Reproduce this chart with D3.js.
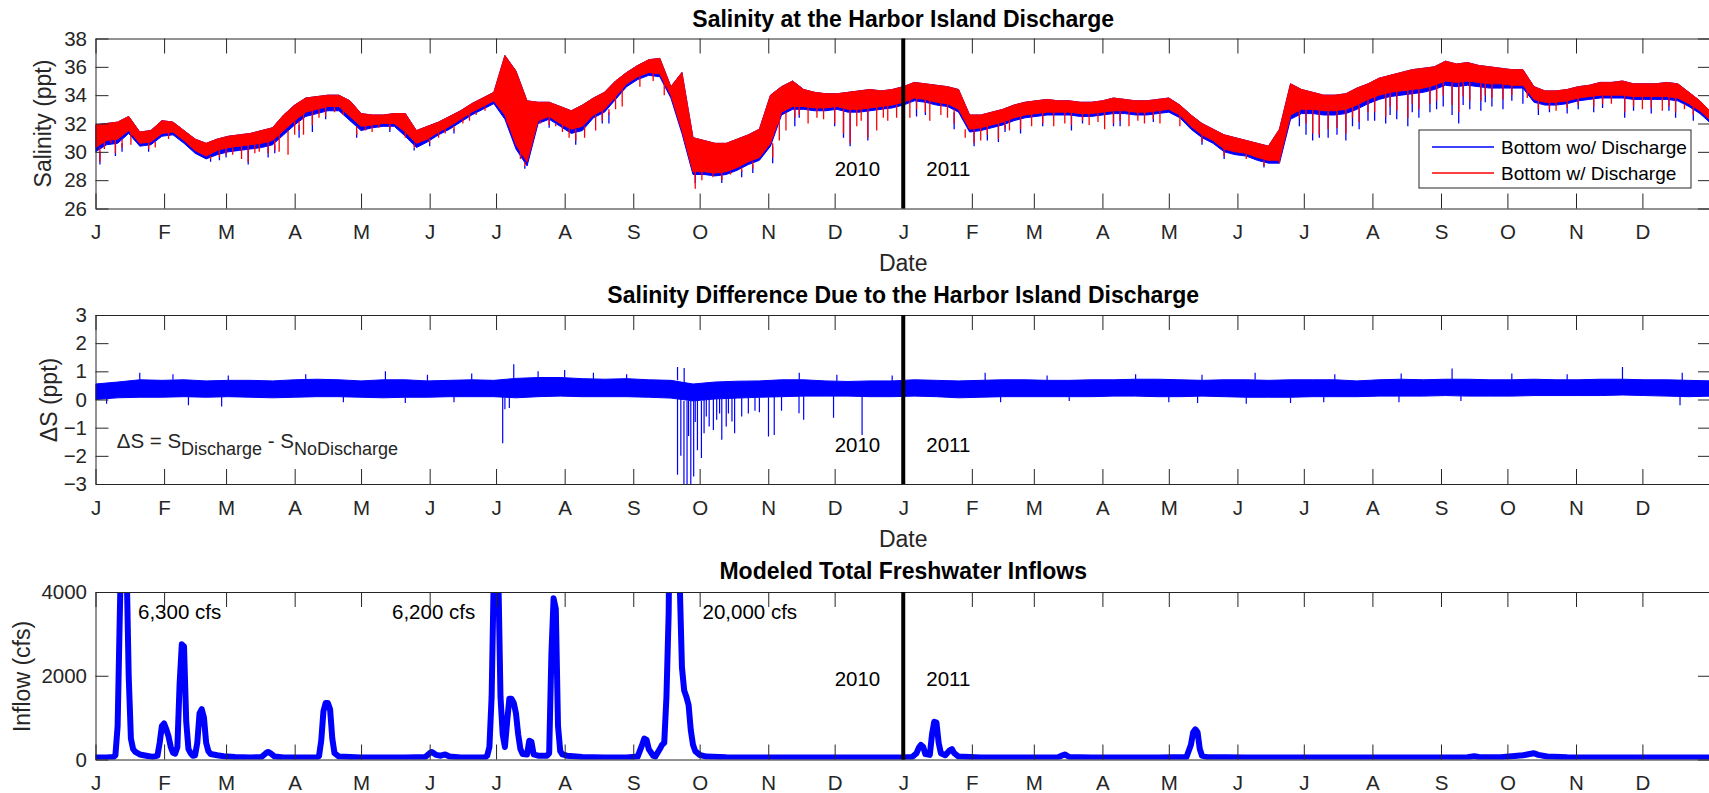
<!DOCTYPE html>
<html><head><meta charset="utf-8">
<script src="https://cdn.jsdelivr.net/npm/d3@7"></script>
<style>
body{margin:0;background:#fff}
svg{display:block}
text{font-family:"Liberation Sans",Arial,Helvetica,sans-serif}
</style>
</head><body>
<svg id="c" width="1709" height="793"></svg>
<script>
// ---------------- DATA ----------------
const monthLetters = ["J","F","M","A","M","J","J","A","S","O","N","D"];
const salTicks = [26,28,30,32,34,36,38];
const diffTicks = [-3,-2,-1,0,1,2,3];
const inflowTicks = [0,2000,4000];
const yearLabels = ["2010","2011"];
const legendLabels = ["Bottom wo/ Discharge","Bottom w/ Discharge"];
const titles = ["Salinity at the Harbor Island Discharge","Salinity Difference Due to the Harbor Island Discharge","Modeled Total Freshwater Inflows"];
const peakLabels = ["6,300 cfs","6,200 cfs","20,000 cfs"];

// salinity envelopes, one sample every 5 days from 1 Jan 2010
const salStepDays = 5;
const redHi = [31.9,32.0,32.1,32.5,31.4,31.5,32.2,32.1,31.5,30.9,30.6,30.9,31.1,31.2,31.3,31.5,31.7,32.6,33.3,33.8,
33.9,34.0,34.0,33.6,32.7,32.6,32.6,32.7,32.7,31.5,31.8,32.1,32.5,32.9,33.4,33.8,34.2,36.8,35.7,33.6,
33.5,33.5,33.2,32.9,33.3,33.8,34.2,35.0,35.6,36.1,36.5,36.6,34.6,35.6,31.0,30.8,30.6,30.6,30.9,31.2,
31.6,34.0,34.6,35.0,34.4,34.2,34.1,34.1,34.2,34.3,34.4,34.3,34.4,34.6,34.9,34.8,34.7,34.6,34.4,32.6,
32.6,32.8,33.0,33.3,33.5,33.6,33.7,33.6,33.6,33.5,33.5,33.6,33.8,33.7,33.6,33.6,33.7,33.8,33.3,32.6,
32.0,31.6,31.2,31.0,30.8,30.6,30.4,31.6,34.8,34.4,34.2,34.0,34.0,34.1,34.5,34.8,35.2,35.4,35.6,35.8,
35.9,36.0,36.4,36.2,36.3,36.1,36.0,35.9,35.8,35.8,34.6,34.3,34.3,34.4,34.6,34.7,34.9,34.9,35.0,34.8,
34.8,34.8,34.9,34.8,34.2,33.6,32.8];
const redLo = [30.3,30.8,30.9,31.5,30.6,30.7,31.3,31.4,30.8,30.1,29.7,30.1,30.3,30.4,30.5,30.6,30.8,31.5,32.2,32.8,
33.0,33.2,33.2,32.5,31.8,31.9,32.0,32.0,31.4,30.6,30.9,31.4,31.8,32.3,32.8,33.2,33.6,32.6,30.5,29.3,
32.2,32.5,32.0,31.6,31.8,32.6,33.0,33.9,34.8,35.3,35.6,35.5,34.0,31.5,28.6,28.6,28.5,28.6,28.9,29.3,
29.6,30.6,32.8,33.2,33.2,33.1,33.1,33.2,33.0,33.0,33.1,33.2,33.3,33.5,33.8,33.7,33.5,33.4,33.0,31.6,
31.7,31.9,32.1,32.4,32.6,32.7,32.8,32.8,32.8,32.7,32.7,32.8,32.9,32.9,32.8,32.8,32.9,33.0,32.6,31.8,
31.2,30.8,30.2,30.0,29.9,29.6,29.4,29.4,32.6,33.0,33.0,32.9,32.9,33.0,33.3,33.7,34.0,34.2,34.3,34.4,
34.5,34.7,35.0,34.9,35.0,34.9,34.8,34.8,34.7,34.7,33.7,33.5,33.5,33.6,33.8,33.9,34.0,34.0,34.0,33.9,
33.9,33.9,33.9,33.8,33.4,32.9,32.2];
const blueLo = [30.0,30.5,30.6,31.3,30.4,30.5,31.1,31.2,30.6,29.9,29.5,29.8,30.0,30.1,30.2,30.3,30.5,31.2,31.9,32.5,
32.7,32.9,32.9,32.2,31.5,31.7,31.8,31.8,31.1,30.3,30.7,31.2,31.6,32.1,32.6,33.0,33.4,32.3,30.2,29.0,
32.0,32.3,31.8,31.3,31.5,32.4,32.8,33.7,34.6,35.1,35.4,35.3,33.8,31.3,28.4,28.4,28.3,28.4,28.7,29.1,
29.4,30.4,32.6,33.0,33.0,32.9,32.9,33.0,32.8,32.8,32.9,33.0,33.1,33.3,33.6,33.5,33.3,33.2,32.8,31.4,
31.5,31.7,31.9,32.2,32.4,32.5,32.6,32.6,32.6,32.5,32.5,32.6,32.7,32.7,32.6,32.6,32.7,32.8,32.4,31.6,
31.0,30.6,30.0,29.8,29.7,29.4,29.2,29.2,32.3,32.7,32.7,32.6,32.6,32.7,33.0,33.4,33.7,33.9,34.0,34.1,
34.2,34.4,34.7,34.6,34.7,34.6,34.5,34.5,34.5,34.5,33.5,33.3,33.3,33.4,33.6,33.7,33.8,33.8,33.8,33.7,
33.7,33.7,33.7,33.6,33.2,32.7,32.0];
// [day since 1 Jan 2010, minimum salinity of the tidal dip]
const redSpikes = [[2,29.3],[4,30.2],[7,30.6],[9,29.9],[12,30.3],[16,30.5],[19,31.0],[24,30.2],[27,30.3],[33,30.9],[38,30.8],[44,30.6],[49,30.4],[52,29.5],[56,29.6],[59,29.8],[62,29.8],[66,29.5],[69,29.3],[72,29.9],[74,30.0],[78,29.9],[81,30.1],[83,30.0],[87,29.8],[90,31.2],[92,31.5],[94,31.2],[98,31.9],[101,32.4],[104,32.5],[108,32.8],[112,32.6],[118,31.2],[122,31.5],[125,31.4],[128,31.7],[133,31.6],[137,31.8],[140,31.0],[144,30.3],[147,30.6],[151,30.6],[155,31.0],[158,31.3],[162,31.5],[166,32.0],[169,32.2],[172,32.6],[176,32.9],[186,32.0],[189,31.5],[192,29.5],[194,29.0],[197,31.0],[201,32.0],[205,31.9],[208,31.8],[211,31.4],[214,31.0],[217,30.8],[221,31.0],[226,31.5],[229,32.2],[232,32.6],[235,33.0],[238,33.2],[246,34.6],[252,35.0],[257,34.0],[264,33.0],[268,30.0],[271,27.4],[274,28.0],[279,28.2],[283,28.0],[287,28.4],[292,28.6],[297,28.8],[299,29.5],[302,29.8],[304,31.0],[306,29.6],[309,30.8],[312,31.5],[316,32.4],[318,32.6],[322,32.0],[326,32.4],[329,32.3],[334,32.0],[338,31.3],[341,30.6],[344,31.8],[346,32.2],[349,31.0],[353,31.5],[356,32.4],[358,32.2],[362,32.4],
[368,32.4],[371,33.0],[375,32.8],[377,32.2],[382,32.6],[385,32.4],[388,32.0],[393,31.0],[397,30.6],[400,30.8],[403,31.2],[408,30.9],[411,31.6],[413,31.5],[418,31.6],[423,31.8],[428,32.0],[433,31.8],[438,32.0],[441,31.9],[446,32.2],[449,31.9],[453,32.1],[456,31.6],[460,32.0],[463,32.2],[467,31.8],[471,32.2],[474,32.0],[478,32.3],[481,32.0],[490,31.8],[500,30.7],[510,29.7],[520,29.5],[528,29.0],[535,29.2],[544,32.4],[547,32.0],[550,31.3],[553,31.2],[557,31.6],[561,31.7],[565,31.3],[568,32.4],[571,32.1],[575,32.8],[578,32.8],[583,32.5],[585,33.2],[588,32.9],[593,32.4],[595,33.4],[598,33.0],[603,33.4],[606,33.6],[609,34.0],[613,33.3],[616,32.8],[618,33.9],[621,33.6],[626,33.6],[628,34.0],[631,33.8],[636,33.7],[640,34.0],[647,33.8],[652,33.0],[657,33.0],[660,32.9],[665,33.1],[670,33.3],[677,33.2],[681,33.4],[685,33.4],[691,32.8],[695,33.2],[699,33.0],[703,33.1],[708,32.9],[711,33.2],[714,32.8],[718,33.0],[722,32.6]];
const blueSpikes = [[2,29.1],[9,29.7],[12,30.0],[24,30.0],[52,29.3],[56,29.4],[59,29.6],[69,29.1],[78,29.6],[81,29.9],[92,31.0],[98,31.4],[104,32.3],[118,31.0],[133,31.4],[144,30.1],[151,30.4],[162,31.3],[194,28.8],[205,31.7],[217,30.5],[229,32.0],[232,32.0],[271,27.8],[283,27.8],[292,28.2],[297,28.5],[302,29.4],[306,29.2],[316,31.8],[318,32.4],[334,31.8],[338,31.0],[341,30.4],[349,30.8],[371,32.5],[375,32.6],[388,31.6],[397,30.4],[403,30.8],[408,30.7],[411,31.4],[418,31.3],[428,31.8],[441,31.5],[446,32.0],[460,31.8],[463,31.8],[478,32.1],[500,30.5],[510,29.5],[528,28.9],[544,31.8],[547,31.2],[550,30.8],[553,31.0],[557,31.0],[561,31.2],[565,30.8],[568,31.8],[571,31.6],[575,32.2],[578,32.2],[583,32.0],[585,32.6],[588,32.3],[593,31.8],[595,32.8],[598,32.4],[603,32.8],[606,33.0],[609,33.2],[613,32.6],[616,32.0],[618,33.3],[621,33.0],[626,32.9],[628,33.5],[631,33.2],[636,33.0],[640,33.6],[645,33.4],[652,32.6],[657,32.8],[665,32.7],[670,33.0],[677,32.8],[681,33.1],[691,32.4],[695,32.9],[703,32.7],[711,32.9],[714,32.4],[722,32.2]];

// salinity difference envelope, one sample every 10 days
const diffStepDays = 10;
const diffHi = [0.55,0.62,0.70,0.68,0.70,0.66,0.68,0.68,0.66,0.70,0.72,0.70,0.66,0.70,0.70,0.66,0.68,0.70,0.68,0.75,
0.78,0.78,0.74,0.72,0.74,0.70,0.68,0.55,0.62,0.65,0.66,0.70,0.70,0.66,0.64,0.66,0.66,0.70,0.68,0.66,
0.68,0.70,0.70,0.68,0.68,0.70,0.70,0.72,0.72,0.70,0.68,0.70,0.70,0.68,0.70,0.70,0.70,0.66,0.70,0.72,
0.70,0.72,0.72,0.70,0.70,0.72,0.70,0.70,0.72,0.72,0.70,0.70,0.68,0.66];
const diffLo = [0.00,0.06,0.08,0.08,0.10,0.08,0.10,0.08,0.06,0.08,0.10,0.10,0.08,0.06,0.08,0.08,0.10,0.10,0.10,0.06,
0.10,0.12,0.10,0.10,0.10,0.08,0.05,-0.05,0.02,0.05,0.08,0.10,0.12,0.12,0.12,0.10,0.10,0.12,0.10,0.06,
0.08,0.10,0.10,0.10,0.10,0.10,0.12,0.12,0.10,0.10,0.12,0.10,0.08,0.08,0.08,0.10,0.10,0.10,0.12,0.12,
0.12,0.14,0.12,0.12,0.12,0.14,0.14,0.14,0.14,0.16,0.14,0.12,0.10,0.12];
const diffSpikes = [[20,0.95],[35,0.9],[60,0.85],[95,0.9],[131,1.0],[150,0.88],[170,0.92],[189,1.25],[200,1.0],[212,1.05],[225,0.95],[240,0.9],[263,1.15],[266,1.12],[318,0.95],[335,0.88],[360,0.85],[402,0.95],[430,0.85],[470,0.9],[500,0.88],[524,0.95],[560,0.9],[590,0.92],[613,1.1],[640,0.92],[665,0.9],[690,1.15],[717,0.95],
[5,-0.15],[42,-0.2],[57,-0.25],[112,-0.1],[140,-0.12],[162,-0.1],[184,-1.55],[185,-0.35],[187,-0.3],
[263,-2.67],[264.5,-2.0],[265.9,-3.2],[267.3,-3.2],[268,-1.3],[269,-3.2],[270.3,-2.73],[271,-0.8],[272,-1.8],[273.8,-2.08],[275,-1.2],[276,-0.6],[277.3,-0.96],[279.2,-1.08],[280.7,-0.72],[282,-0.5],[283,-1.43],[285,-0.96],[286,-0.5],[287.6,-0.78],[288.8,-1.2],[292,-0.6],[295,-0.5],[298,-0.4],[300,-0.45],[304.1,-1.31],[306.7,-1.26],[310,-0.4],[317.9,-0.49],[320,-0.72],[333.5,-0.65],[346.4,-1.26],
[409,-0.1],[440,-0.05],[485,-0.1],[498,-0.12],[520,-0.15],[540,-0.12],[555,-0.1],[589,-0.1],[617,-0.05],[716,-0.2]];

// modeled inflow (cfs) at days since 1 Jan 2010
const inflowDays = [0,5,8,9,10,11,12,13,14,15,16,17,18,20,23,26,28,29,30,31,32,33,34,35,36,37,38,39,40,41,42,43,44,45,46,47,48,49,50,51,52,55,58,63,70,75,77,78,79,81,85,100,101,102,103,104,105,106,107,108,110,120,140,149,151,152,154,156,158,160,165,176,177,178,179,180,181,182,183,184,185,186,187,188,189,190,191,192,193,195,196,197,198,200,204,205,206,207,208,209,210,211,213,220,230,240,245,247,248,249,250,252,253,255,256,257,258,259,260,261,262,263,264,265,266,267,268,269,270,271,273,276,285,300,320,340,365,369,371,372,373,374,375,377,378,379,380,381,382,384,386,387,388,390,400,420,435,437,438,440,450,480,493,495,496,497,498,499,500,502,520,560,600,620,623,625,635,640,645,648,650,652,656,665,690,730];
const inflowValues = [50,50,60,100,800,3500,6000,6300,4800,2000,500,250,180,120,90,60,90,400,800,860,720,550,300,160,140,300,1800,2750,2700,900,250,150,90,100,400,1100,1200,1000,400,200,130,100,80,60,50,60,150,180,150,70,50,50,80,450,1150,1350,1350,1200,500,150,70,50,50,60,150,180,110,90,120,70,50,50,90,300,1500,4500,6200,4500,1500,600,300,900,1450,1450,1350,1100,600,250,130,120,450,420,120,90,90,150,2500,3850,3600,800,200,120,90,60,50,50,70,350,500,470,250,90,70,250,350,400,1500,3500,9000,18000,20000,12000,4200,2200,1650,1500,1300,700,350,200,110,70,55,50,50,45,45,60,150,280,350,300,130,110,600,900,880,400,150,100,220,250,150,70,50,50,55,100,120,60,50,50,60,350,650,720,650,250,90,60,50,50,50,55,80,60,55,80,100,130,150,110,70,55,50,50];

// ---------------- LAYOUT ----------------
const ink = "#262626";
const xLeft = 95.5, xRight = 1711;
const day0 = Date.UTC(2010,0,1);
const dt = d => new Date(day0 + d*86400000);
const x = d3.scaleUtc().domain([new Date(day0), new Date(Date.UTC(2012,0,1))]).range([xLeft, xRight]);
const monthTicks = d3.utcMonth.range(new Date(day0), new Date(Date.UTC(2012,0,1)));
const yearBreak = new Date(Date.UTC(2011,0,1));

const svg = d3.select("#c");
const defs = svg.append("defs");

function panel(idx, top, bottom, domain, ticks) {
  const y = d3.scaleLinear().domain(domain).range([bottom, top]);
  const g = svg.append("g");
  const cid = "clip" + idx;
  defs.append("clipPath").attr("id", cid).append("rect")
    .attr("x", xLeft).attr("y", top).attr("width", xRight - xLeft).attr("height", bottom - top);
  const plot = g.append("g").attr("clip-path", `url(#${cid})`);
  return {y, g, plot, top, bottom, ticks};
}

function axes(p, showDate) {
  const {g, y, top, bottom, ticks} = p;
  const style = sel => {
    sel.attr("font-family", null).attr("font-size", null);
    sel.select(".domain").attr("stroke", ink).attr("stroke-width", 1);
    sel.selectAll(".tick line").attr("stroke", ink).attr("stroke-width", 1);
    sel.selectAll(".tick text").attr("fill", ink).style("font-size", "20.5px");
  };
  g.append("g").attr("transform", `translate(0,${bottom})`)
    .call(d3.axisBottom(x).tickValues(monthTicks).tickFormat(d => monthLetters[d.getUTCMonth()])
      .tickSizeInner(-15).tickSizeOuter(0).tickPadding(16)).call(style);
  g.append("g").attr("transform", `translate(0,${top})`)
    .call(d3.axisTop(x).tickValues(monthTicks).tickFormat("").tickSizeInner(-15).tickSizeOuter(0)).call(style);
  g.append("g").attr("transform", `translate(${xLeft},0)`)
    .call(d3.axisLeft(y).tickValues(ticks).tickFormat(d3.format("d")).tickSizeInner(-13).tickSizeOuter(0).tickPadding(8.5)).call(style);
  g.append("g").attr("transform", `translate(${xRight},0)`)
    .call(d3.axisRight(y).tickValues(ticks).tickFormat("").tickSizeInner(-13).tickSizeOuter(0)).call(style);
  g.append("line").attr("x1", x(yearBreak)).attr("x2", x(yearBreak)).attr("y1", top).attr("y2", bottom)
    .attr("stroke", "#000").attr("stroke-width", 4);
  if (showDate) {
    g.append("text").attr("x", (xLeft + xRight) / 2).attr("y", bottom + 62.5).attr("text-anchor", "middle")
      .attr("fill", ink).style("font-size", "23px").text("Date");
  }
}

function title(txt, yb) {
  svg.append("text").attr("x", (xLeft + xRight) / 2).attr("y", yb).attr("text-anchor", "middle")
    .attr("fill", "#000").style("font-size", "23px").style("font-weight", "bold").text(txt);
}
function ylabel(txt, xb, yc) {
  svg.append("text").attr("transform", `translate(${xb},${yc}) rotate(-90)`).attr("text-anchor", "middle")
    .attr("fill", ink).style("font-size", "23px").text(txt);
}
function years(p, yc) {
  p.g.append("text").attr("x", x(yearBreak) - 23).attr("y", yc + 7.4).attr("text-anchor", "end")
    .attr("fill", "#000").style("font-size", "20.5px").text(yearLabels[0]);
  p.g.append("text").attr("x", x(yearBreak) + 23).attr("y", yc + 7.4).attr("text-anchor", "start")
    .attr("fill", "#000").style("font-size", "20.5px").text(yearLabels[1]);
}
function spikeSegs(spikes, lo, hi, step) {
  const out = [];
  spikes.forEach(([d, v]) => {
    const k = Math.max(0, Math.min(lo.length - 1, Math.round(d / step)));
    if (v < lo[k]) out.push([d, v, lo[k]]);
    else if (v > hi[k]) out.push([d, hi[k], v]);
  });
  return out;
}
function drawSpikes(p, segs, color, w) {
  p.plot.append("g").selectAll("line").data(segs).join("line")
    .attr("x1", s => x(dt(s[0]))).attr("x2", s => x(dt(s[0])))
    .attr("y1", s => p.y(s[1])).attr("y2", s => p.y(s[2]))
    .attr("stroke", color).attr("stroke-width", w);
}

// ---------------- PANEL 1 ----------------
const p1 = panel(1, 38.5, 208.5, [26, 38], salTicks);
const salRows = redHi.map((v, i) => ({day: i * salStepDays, hi: v, lo: redLo[i], bl: blueLo[i]}));
p1.plot.append("path").datum(salRows)
  .attr("d", d3.area().x(d => x(dt(d.day))).y0(d => p1.y(d.bl)).y1(d => p1.y(d.hi)))
  .attr("fill", "#0000ff").attr("stroke", "#0000ff").attr("stroke-width", 1);
drawSpikes(p1, spikeSegs(blueSpikes, blueLo, redHi, salStepDays), "#0000ff", 1.3);
p1.plot.append("path").datum(salRows)
  .attr("d", d3.area().x(d => x(dt(d.day))).y0(d => p1.y(d.lo)).y1(d => p1.y(d.hi)))
  .attr("fill", "#ff0000").attr("stroke", "#ff0000").attr("stroke-width", 1);
drawSpikes(p1, spikeSegs(redSpikes, redLo, redHi, salStepDays), "#ff0000", 1.3);
axes(p1, true);
years(p1, 169);
title(titles[0], 26.7);
ylabel("Salinity (ppt)", 50.5, 123.5);
const lg = svg.append("g");
lg.append("rect").attr("x", 1419).attr("y", 130).attr("width", 272).attr("height", 58)
  .attr("fill", "#fff").attr("stroke", ink).attr("stroke-width", 1);
[["#0000ff", 147], ["#ff0000", 173]].forEach(([c, yy], i) => {
  lg.append("line").attr("x1", 1432).attr("x2", 1494).attr("y1", yy).attr("y2", yy).attr("stroke", c).attr("stroke-width", 1.5);
  lg.append("text").attr("x", 1501).attr("y", yy + 6.6).attr("fill", "#000").style("font-size", "19px").text(legendLabels[i]);
});

// ---------------- PANEL 2 ----------------
const p2 = panel(2, 315, 484, [-3, 3], diffTicks);
const diffRows = diffHi.map((v, i) => ({day: i * diffStepDays, hi: v, lo: diffLo[i]}));
p2.plot.append("path").datum(diffRows)
  .attr("d", d3.area().x(d => x(dt(d.day))).y0(d => p2.y(d.lo)).y1(d => p2.y(d.hi)))
  .attr("fill", "#0000ff").attr("stroke", "#0000ff").attr("stroke-width", 1);
drawSpikes(p2, spikeSegs(diffSpikes, diffLo, diffHi, diffStepDays), "#0000ff", 1.2);
axes(p2, true);
years(p2, 445);
title(titles[1], 303);
ylabel("\u0394S (ppt)", 57, 400);
const f = p2.g.append("text").attr("x", 116.7).attr("y", 448).attr("fill", ink).style("font-size", "20.5px");
f.append("tspan").text("\u0394S = S");
f.append("tspan").attr("dy", 7).style("font-size", "18px").text("Discharge");
f.append("tspan").attr("dy", -7).text(" - S");
f.append("tspan").attr("dy", 7).style("font-size", "18px").text("NoDischarge");

// ---------------- PANEL 3 ----------------
const p3 = panel(3, 592, 759.5, [0, 4000], inflowTicks);
const inflowRows = inflowDays.map((d, i) => ({day: d, v: inflowValues[i]}));
p3.plot.append("path").datum(inflowRows)
  .attr("d", d3.line().x(d => x(dt(d.day))).y(d => p3.y(d.v)))
  .attr("fill", "none").attr("stroke", "#0000ff").attr("stroke-width", 6)
  .attr("stroke-linejoin", "round").attr("stroke-linecap", "round");
axes(p3, false);
years(p3, 678.3);
title(titles[2], 579);
ylabel("Inflow (cfs)", 30, 676.5);
[[138, peakLabels[0]], [392, peakLabels[1]], [702.5, peakLabels[2]]].forEach(([xx, t]) => {
  p3.g.append("text").attr("x", xx).attr("y", 619.4).attr("fill", "#000").style("font-size", "20.5px").text(t);
});
</script>
</body></html>
